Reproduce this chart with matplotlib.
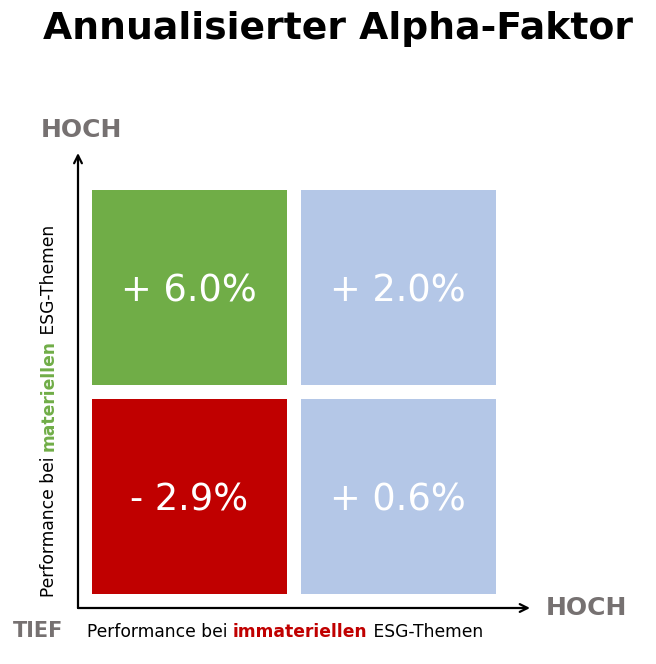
import matplotlib
matplotlib.use("Agg")
import matplotlib.pyplot as plt

# ---- data ----
title = "Annualisierter Alpha-Faktor"
cell_cols = [0, 1, 0, 1]          # 0 = tief, 1 = hoch (immateriell)
cell_rows = [1, 1, 0, 0]          # 0 = tief, 1 = hoch (materiell)
cell_values = [6.0, 2.0, -2.9, 0.6]
cell_colors = ["#70AD47", "#B4C7E7", "#C00000", "#B4C7E7"]
x_label_parts = ["Performance bei ", "immateriellen", " ESG-Themen"]
y_label_parts = ["Performance bei ", "materiellen", " ESG-Themen"]
high_label = "HOCH"
low_label = "TIEF"

GREEN = "#70AD47"
RED = "#C00000"
GRAY = "#767171"

plt.rcParams['font.family'] = ['DejaVu Sans']

fig = plt.figure(figsize=(6.56, 6.64), dpi=100)
W, H = 656, 664

def fx(px):
    return px / W

def fy(py):
    return 1 - py / H

# axes: x axis line at px y=608, y axis line at px x=78
ax = fig.add_axes([fx(78), fy(608), (530 - 78) / W, (608 - 153) / H])
ax.set_xlim(0, 2.163)
ax.set_ylim(0, 2.177)
ax.axis("off")

gap = 0.065
for c, r, v, col in zip(cell_cols, cell_rows, cell_values, cell_colors):
    ax.bar(c + gap + (1 - gap) / 2, 1 - gap, bottom=r + gap, width=1 - gap,
           color=col, edgecolor="none")
    sign = "+" if v >= 0 else "-"
    ax.text(c + gap + (1 - gap) / 2, r + gap + (1 - gap) / 2 - 0.014,
            f"{sign} {abs(v):.1f}%", color="white", fontsize=26.5,
            fontweight="normal", ha="center", va="center")

# arrows
arrow_kw = dict(arrowstyle="->", color="black", lw=1.6, mutation_scale=14,
                shrinkA=0, shrinkB=0)
ax.annotate("", xy=(1, 0), xytext=(0, 0), xycoords="axes fraction",
            arrowprops=arrow_kw)
ax.annotate("", xy=(0, 1), xytext=(0, 0), xycoords="axes fraction",
            arrowprops=arrow_kw)

# title
fig.text(fx(338), fy(29), title, fontsize=27.2, fontweight="bold",
         ha="center", va="center", color="black")

# HOCH / TIEF labels
fig.text(fx(81), fy(130), high_label, fontsize=18, fontweight="bold",
         color=GRAY, ha="center", va="center")
fig.text(fx(586), fy(608), high_label, fontsize=18, fontweight="bold",
         color=GRAY, ha="center", va="center")
fig.text(fx(38), fy(631), low_label, fontsize=15, fontweight="bold",
         color=GRAY, ha="center", va="center")

# multi-colour axis labels, placed piece by piece
lab_fs = 12.35
renderer = fig.canvas.get_renderer()
weights = ["normal", "bold", "normal"]


def part_width(s, wgt):
    tmp = fig.text(0, 0, s, fontsize=lab_fs, fontweight=wgt)
    w = tmp.get_window_extent(renderer).width
    tmp.remove()
    return w


x_px, base_px = 87, 637
for part, wgt, colr in zip(x_label_parts, weights, ["black", RED, "black"]):
    fig.text(fx(x_px), fy(base_px), part, fontsize=lab_fs, fontweight=wgt,
             color=colr, ha="left", va="baseline")
    x_px += part_width(part, wgt)

y_px, col_px = 597, 54
for part, wgt, colr in zip(y_label_parts, weights, ["black", GREEN, "black"]):
    fig.text(fx(col_px), fy(y_px), part, fontsize=lab_fs, fontweight=wgt,
             color=colr, rotation=90, rotation_mode="anchor",
             ha="left", va="baseline")
    y_px -= part_width(part, wgt)

fig.savefig("out.png", dpi=100, facecolor="white")
